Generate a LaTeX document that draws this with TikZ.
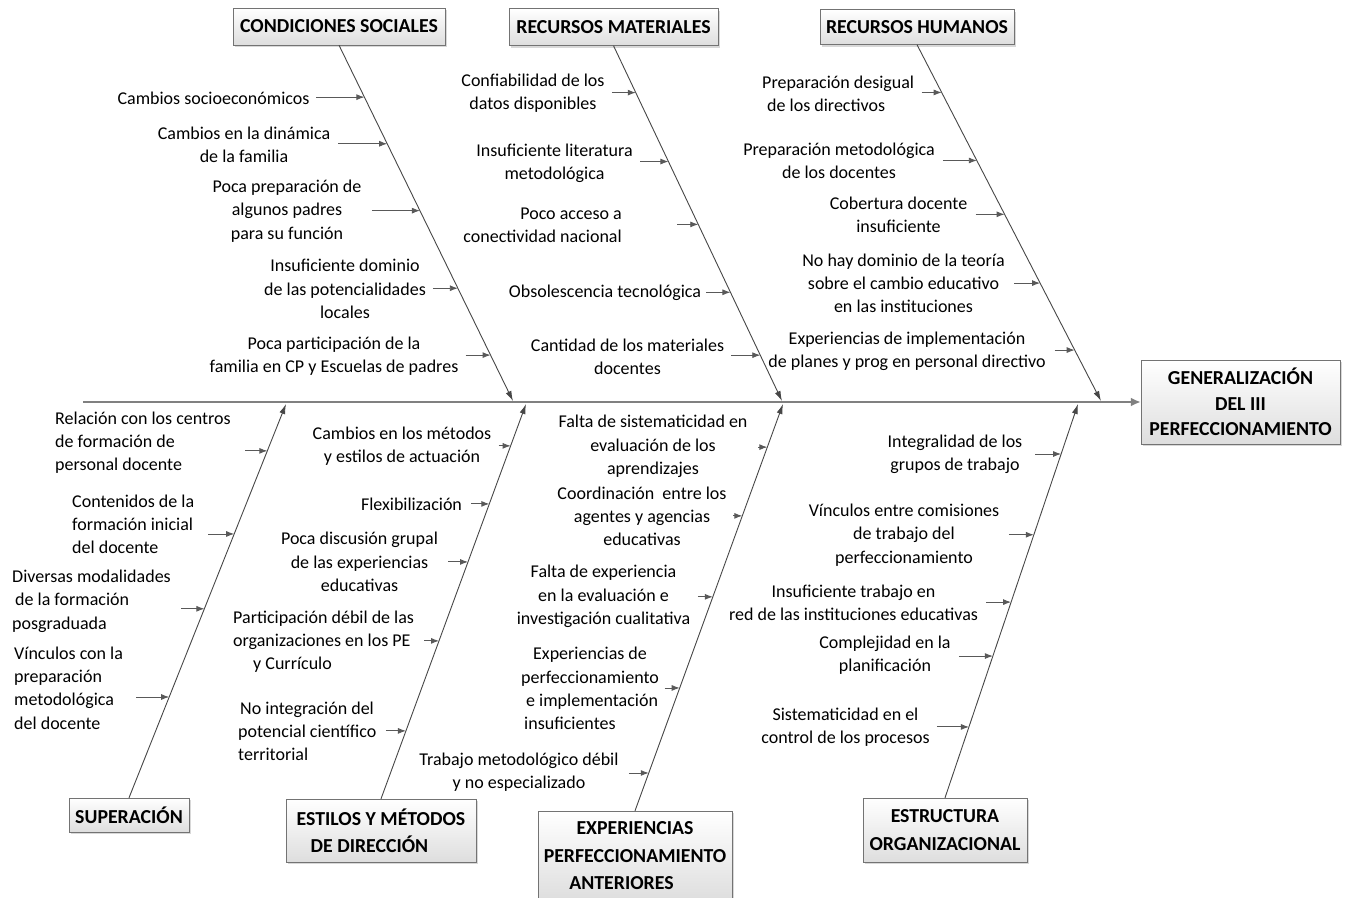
\documentclass[tikz,border=0pt]{standalone}
\usepackage{fontspec}
\setmainfont{Carlito}
\usetikzlibrary{arrows.meta, shadows}

\tikzset{
	titulo/.style={draw=black!55, top color=white, bottom color=black!13, drop shadow={shadow xshift=2pt, shadow yshift=-2pt, fill=black!30}, font=\fontsize{19.8}{27.5}\selectfont\bfseries, align=center, inner sep=0pt},
	causa/.style={font=\fontsize{18}{23.3}\selectfont, align=center, inner sep=0pt},
	espina/.style={draw=black!72, line width=0.9pt, -{Latex[length=10pt, width=6pt]}},
	flecha/.style={draw=black!65, line width=0.9pt, -{Latex[length=8pt, width=6pt]}},
	eje/.style={draw=black!50, line width=2pt, -{Latex[length=10pt, width=9pt]}}
}

\begin{document}
\begin{tikzpicture}[x=1pt, y=-1pt]
	\useasboundingbox (0,0) rectangle (1349,897);
	\clip (0,0) rectangle (1349,897);

	\node[titulo, minimum width=212pt, minimum height=37pt] (cond) at (339,26.5) {CONDICIONES SOCIALES};
	\node[titulo, minimum width=209pt, minimum height=37pt] (mat) at (613.5,27) {RECURSOS MATERIALES};
	\node[titulo, minimum width=194pt, minimum height=35pt] (hum) at (917,27) {RECURSOS HUMANOS};
	\node[titulo, minimum width=120pt, minimum height=34pt] (sup) at (129,815) {SUPERACIÓN};
	\node[titulo, minimum width=190pt, minimum height=63pt, align=left] (est) at (381,830.5) {ESTILOS Y MÉTODOS\\\hspace*{14pt}DE DIRECCIÓN};
	\node[titulo, minimum width=194pt, minimum height=90pt] (exp) at (635,856) {EXPERIENCIAS\\PERFECCIONAMIENTO\\ANTERIORES\hspace*{27pt}};
	\node[titulo, minimum width=164pt, minimum height=64pt] (org) at (945,830) {ESTRUCTURA\\ORGANIZACIONAL};
	\node[titulo, minimum width=199pt, minimum height=84pt, font=\fontsize{19.8}{25.5}\selectfont\bfseries] (gen) at (1240.5,402) {GENERALIZACIÓN\\DEL III\\PERFECCIONAMIENTO};

	\coordinate (cola) at (83,402);
	\coordinate (e1) at (513,401);
	\coordinate (e2) at (782,401);
	\coordinate (e3) at (1101,401);
	\coordinate (e4) at (286,404);
	\coordinate (e5) at (526,404);
	\coordinate (e6) at (783,404);
	\coordinate (e7) at (1078,404);

	\draw[eje] (cola) -- (gen.west);

	\draw[espina] (cond.south) -- (e1) coordinate[pos=0.146] (t11) coordinate[pos=0.277] (t12) coordinate[pos=0.465] (t13) coordinate[pos=0.683] (t14) coordinate[pos=0.871] (t15);
	\draw[espina] (mat.south) -- (e2) coordinate[pos=0.132] (t21) coordinate[pos=0.326] (t22) coordinate[pos=0.503] (t23) coordinate[pos=0.694] (t24) coordinate[pos=0.871] (t25);
	\draw[espina] (hum.south) -- (e3) coordinate[pos=0.134] (t31) coordinate[pos=0.325] (t32) coordinate[pos=0.476] (t33) coordinate[pos=0.669] (t34) coordinate[pos=0.857] (t35);
	\draw[espina] (sup.north) -- (e4) coordinate[pos=0.881] (t41) coordinate[pos=0.670] (t42) coordinate[pos=0.480] (t43) coordinate[pos=0.256] (t44);
	\draw[espina] (est.north) -- (e5) coordinate[pos=0.894] (t51) coordinate[pos=0.747] (t52) coordinate[pos=0.600] (t53) coordinate[pos=0.400] (t54) coordinate[pos=0.172] (t55);
	\draw[espina] (exp.north) -- (e6) coordinate[pos=0.894] (t61) coordinate[pos=0.725] (t62) coordinate[pos=0.526] (t63) coordinate[pos=0.302] (t64) coordinate[pos=0.093] (t65);
	\draw[espina] (org.north) -- (e7) coordinate[pos=0.873] (t71) coordinate[pos=0.668] (t72) coordinate[pos=0.497] (t73) coordinate[pos=0.360] (t74) coordinate[pos=0.180] (t75);

	\node[causa] (c11) at (213.5,98) {Cambios socioeconómicos};
	\node[causa] (c12) at (244,144.5) {Cambios en la dinámica\\de la familia};
	\node[causa] (c13) at (287,211) {Poca preparación de\\algunos padres\\para su función};
	\node[causa] (c14) at (345,289) {Insuficiente dominio\\de las potencialidades\\locales};
	\node[causa] (c15) at (334,356) {Poca participación de la\\familia en CP y Escuelas de padres};

	\node[causa] (c21) at (533,93.5) {Confiabilidad de los\\datos disponibles};
	\node[causa] (c22) at (554.5,163.5) {Insuficiente literatura\\metodológica};
	\node[causa, align=right, anchor=east] (c23) at (622,225) {Poco acceso a\\conectividad nacional};
	\node[causa] (c24) at (605,293) {Obsolescencia tecnológica};
	\node[causa] (c25) at (627.5,356.5) {Cantidad de los materiales\\docentes};

	\node[causa, align=left, anchor=west] (c31) at (762,93.5) {Preparación desigual\\\hspace*{5pt}de los directivos};
	\node[causa] (c32) at (839,160.5) {Preparación metodológica\\de los docentes};
	\node[causa] (c33) at (898.5,215) {Cobertura docente\\insuficiente};
	\node[causa] (c34) at (903.5,283.5) {No hay dominio de la teoría\\sobre el cambio educativo\\en las instituciones};
	\node[causa] (c35) at (907,351) {Experiencias de implementación\\de planes y prog en personal directivo};

	\node[causa, align=left, anchor=west] (c41) at (55,442.5) {Relación con los centros\\de formación de\\personal docente};
	\node[causa, align=left, anchor=west] (c42) at (72,524.5) {Contenidos de la\\formación inicial\\del docente};
	\node[causa, align=left, anchor=west] (c43) at (12,601) {Diversas modalidades\\\hspace*{3pt}de la formación\\posgraduada};
	\node[causa, align=left, anchor=west] (c44) at (14,688) {Vínculos con la\\preparación\\metodológica\\del docente};

	\node[causa] (c51) at (402,446) {Cambios en los métodos\\y estilos de actuación};
	\node[causa] (c52) at (411.5,504) {Flexibilización};
	\node[causa] (c53) at (359.5,562) {Poca discusión grupal\\de las experiencias\\educativas};
	\node[causa, align=left, anchor=west] (c54) at (233,641.5) {Participación débil de las\\organizaciones en los PE\\\hspace*{20pt}y Currículo};
	\node[causa, align=left, anchor=west] (c55) at (238,731.5) {\hspace*{2pt}No integración del\\potencial científico\\territorial};

	\node[causa] (c61) at (653,446.5) {Falta de sistematicidad en\\evaluación de los\\aprendizajes};
	\node[causa] (c62) at (642,516.5) {Coordinación\ \ entre los\\agentes y agencias\\educativas};
	\node[causa] (c63) at (603.5,596.5) {Falta de experiencia\\en la evaluación e\\investigación cualitativa};
	\node[causa, align=left, anchor=west] (c64) at (521,688.5) {\hspace*{12pt}Experiencias de\\perfeccionamiento\\\hspace*{5pt}e implementación\\\hspace*{3pt}insuficientes};
	\node[causa] (c65) at (519,772) {Trabajo metodológico débil\\y no especializado};

	\node[causa] (c71) at (955,454.5) {Integralidad de los\\grupos de trabajo};
	\node[causa] (c72) at (904,535) {Vínculos entre comisiones\\de trabajo del\\perfeccionamiento};
	\node[causa] (c73) at (853.5,603) {Insuficiente trabajo en\\red de las instituciones educativas};
	\node[causa] (c74) at (885,655) {Complejidad en la\\planificación};
	\node[causa] (c75) at (845.5,727.5) {Sistematicidad en el\\control de los procesos};

	\draw[flecha] ([xshift=-48pt]t11) -- (t11);
	\draw[flecha] ([xshift=-49pt]t12) -- (t12);
	\draw[flecha] ([xshift=-48pt]t13) -- (t13);
	\draw[flecha] ([xshift=-25pt]t14) -- (t14);
	\draw[flecha] ([xshift=-25pt]t15) -- (t15);

	\draw[flecha] ([xshift=-24pt]t21) -- (t21);
	\draw[flecha] ([xshift=-28pt]t22) -- (t22);
	\draw[flecha] ([xshift=-21pt]t23) -- (t23);
	\draw[flecha] ([xshift=-24pt]t24) -- (t24);
	\draw[flecha] ([xshift=-29pt]t25) -- (t25);

	\draw[flecha] ([xshift=-20pt]t31) -- (t31);
	\draw[flecha] ([xshift=-34pt]t32) -- (t32);
	\draw[flecha] ([xshift=-29pt]t33) -- (t33);
	\draw[flecha] ([xshift=-26pt]t34) -- (t34);
	\draw[flecha] ([xshift=-20pt]t35) -- (t35);

	\draw[flecha] ([xshift=-22pt]t41) -- (t41);
	\draw[flecha] ([xshift=-26pt]t42) -- (t42);
	\draw[flecha] ([xshift=-23pt]t43) -- (t43);
	\draw[flecha] ([xshift=-33pt]t44) -- (t44);

	\draw[flecha] ([xshift=-12pt]t51) -- (t51);
	\draw[flecha] ([xshift=-18pt]t52) -- (t52);
	\draw[flecha] ([xshift=-20pt]t53) -- (t53);
	\draw[flecha] ([xshift=-15pt]t54) -- (t54);
	\draw[flecha] ([xshift=-20pt]t55) -- (t55);

	\draw[flecha] ([xshift=-9pt]t61) -- (t61);
	\draw[flecha] ([xshift=-9pt]t62) -- (t62);
	\draw[flecha] ([xshift=-15pt]t63) -- (t63);
	\draw[flecha] ([xshift=-15pt]t64) -- (t64);
	\draw[flecha] ([xshift=-20pt]t65) -- (t65);

	\draw[flecha] ([xshift=-26pt]t71) -- (t71);
	\draw[flecha] ([xshift=-25pt]t72) -- (t72);
	\draw[flecha] ([xshift=-25pt]t73) -- (t73);
	\draw[flecha] ([xshift=-34pt]t74) -- (t74);
	\draw[flecha] ([xshift=-32pt]t75) -- (t75);
\end{tikzpicture}
\end{document}
